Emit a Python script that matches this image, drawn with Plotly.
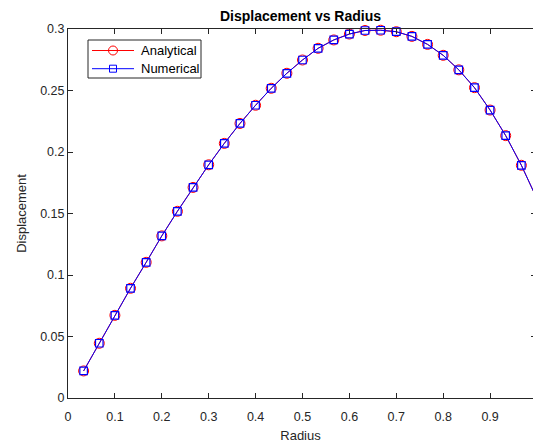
import plotly.graph_objects as go

radius = [0.0333, 0.0667, 0.1000, 0.1333, 0.1667, 0.2000, 0.2333, 0.2667, 0.3000, 0.3333,
          0.3667, 0.4000, 0.4333, 0.4667, 0.5000, 0.5333, 0.5667, 0.6000, 0.6333, 0.6667,
          0.7000, 0.7333, 0.7667, 0.8000, 0.8333, 0.8667, 0.9000, 0.9333, 0.9667, 1.0000]
analytical = [0.0220, 0.0445, 0.0672, 0.0892, 0.1103, 0.1318, 0.1518, 0.1712, 0.1896, 0.2070,
              0.2232, 0.2380, 0.2518, 0.2640, 0.2748, 0.2843, 0.2911, 0.2959, 0.2988, 0.2990,
              0.2978, 0.2940, 0.2875, 0.2786, 0.2668, 0.2523, 0.2341, 0.2133, 0.1892, 0.1618]
numerical = list(analytical)

series_names = ["Analytical", "Numerical"]
series_colors = ["rgb(255,0,0)", "rgb(0,0,255)"]

x_ticks = [0, 0.1, 0.2, 0.3, 0.4, 0.5, 0.6, 0.7, 0.8, 0.9]
y_ticks = [0, 0.05, 0.1, 0.15, 0.2, 0.25, 0.3]
y_tick_text = ["0", "0.05", "0.1", "0.15", "0.2", "0.25", "0.3"]

axc = "#262626"
font = "Liberation Sans, Arial, Helvetica, sans-serif"

W, H = 533, 444
ML, MR, MT, MB = 68, 0, 29, 46
PW, PH = W - ML - MR, H - MT - MB


def px(x):
    return (x - ML) / PW


def py(y):
    return (H - MB - y) / PH


fig = go.Figure()
fig.add_trace(go.Scatter(
    x=radius, y=analytical, name=series_names[0], mode="lines+markers",
    line=dict(color=series_colors[0], width=1),
    marker=dict(symbol="circle-open", size=10, color=series_colors[0], line=dict(width=1)),
    cliponaxis=False, showlegend=False,
))
fig.add_trace(go.Scatter(
    x=radius, y=numerical, name=series_names[1], mode="lines+markers",
    line=dict(color=series_colors[1], width=1),
    marker=dict(symbol="square-open", size=7.5, color=series_colors[1], line=dict(width=1.2)),
    cliponaxis=False, showlegend=False,
))
# invisible trace for right-side tick marks
fig.add_trace(go.Scatter(x=[None], y=[None], yaxis="y2", showlegend=False, hoverinfo="skip"))

# custom legend (MATLAB style)
shapes = [dict(type="rect", xref="paper", yref="paper", x0=px(88), x1=px(201), y0=py(40), y1=py(78),
               line=dict(color=axc, width=1), fillcolor="white", layer="above")]
annotations = []
rows = [50.5, 68.7]
for i, (nm, col) in enumerate(zip(series_names, series_colors)):
    yy = py(rows[i])
    shapes.append(dict(type="line", xref="paper", yref="paper", x0=px(92), x1=px(134), y0=yy, y1=yy,
                       line=dict(color=col, width=1), layer="above"))
    half = 4.5 if i == 0 else 3.5
    shapes.append(dict(type="circle" if i == 0 else "rect", xref="paper", yref="paper",
                       xsizemode="pixel", ysizemode="pixel", xanchor=px(113), yanchor=yy,
                       x0=-half, x1=half, y0=-half, y1=half,
                       line=dict(color=col, width=1), fillcolor="rgba(0,0,0,0)", layer="above"))
    annotations.append(dict(text=nm, xref="paper", yref="paper", x=px(139), y=yy,
                            xanchor="left", yanchor="middle", showarrow=False,
                            font=dict(size=13, color="black", family=font)))

fig.update_layout(
    width=W, height=H,
    margin=dict(l=ML, r=MR, t=MT, b=MB),
    paper_bgcolor="white", plot_bgcolor="white",
    font=dict(family=font, size=12, color=axc),
    title=dict(text="<b>Displacement vs Radius</b>", x=0.5, xref="paper", y=0.964, yref="container",
               xanchor="center", yanchor="middle", font=dict(size=14, color="black", family=font)),
    xaxis=dict(range=[0, 0.9915], tickvals=x_ticks, ticktext=[str(v) if v else "0" for v in x_ticks],
               ticks="inside", ticklen=5, tickcolor=axc, showline=True, linecolor=axc, linewidth=1,
               mirror="ticks", showgrid=False, zeroline=False, ticklabelstandoff=7,
               title=dict(text="Radius", standoff=7, font=dict(size=13)),
               tickfont=dict(size=12.5)),
    yaxis=dict(range=[0, 0.3], tickvals=y_ticks, ticktext=y_tick_text,
               ticks="inside", ticklen=5, tickcolor=axc, showline=True, linecolor=axc, linewidth=1,
               showgrid=False, zeroline=False,
               title=dict(text="Displacement", standoff=10, font=dict(size=13)),
               tickfont=dict(size=12.5)),
    yaxis2=dict(range=[0, 0.3], tickvals=y_ticks, overlaying="y", side="right", anchor="x",
                showticklabels=False, ticks="inside", ticklen=2, tickcolor=axc,
                showline=False, showgrid=False, zeroline=False),
    shapes=shapes,
    annotations=annotations,
    showlegend=False,
)

fig.write_html("out.html")
